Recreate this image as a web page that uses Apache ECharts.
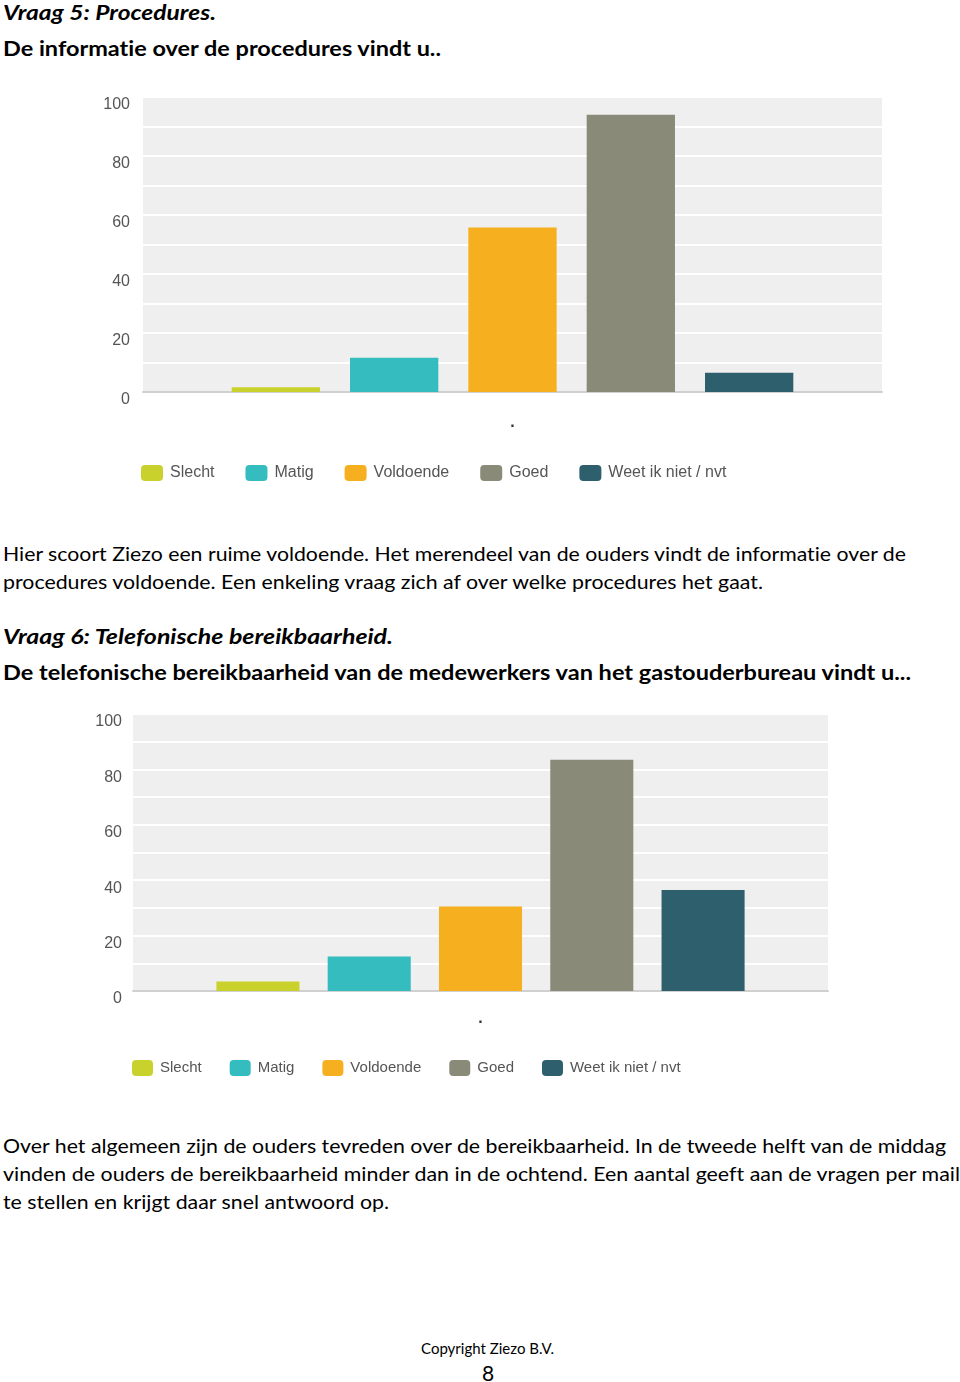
<!DOCTYPE html>
<html><head><meta charset="utf-8">
<script src="https://cdn.jsdelivr.net/npm/echarts@6/dist/echarts.min.js"></script>
<style>
html,body{margin:0;padding:0;background:#fff;}
#page{position:relative;width:960px;height:1382px;overflow:hidden;font-family:Lato,"Open Sans",sans-serif;color:#000;font-variant-ligatures:none;font-feature-settings:"liga" 0;}
.ln{position:absolute;left:3px;white-space:nowrap;transform-origin:0 50%;line-height:1;}
.bi{font-weight:bold;font-style:italic;font-size:21px;}
.b{font-weight:bold;font-size:21px;}
.t{font-size:20px;}
.chart{position:absolute;left:0;width:960px;}
</style></head>
<body><div id="page">
<div class="ln bi" style="top:1px" data-w="213">Vraag 5: Procedures.</div>
<div class="ln b" style="top:37px" data-w="438">De informatie over de procedures vindt u..</div>
<div id="c1" class="chart" style="top:80px;height:420px"></div>
<div class="ln t" style="top:543px" data-w="903">Hier scoort Ziezo een ruime voldoende. Het merendeel van de ouders vindt de informatie over de</div>
<div class="ln t" style="top:571px" data-w="760">procedures voldoende. Een enkeling vraag zich af over welke procedures het gaat.</div>
<div class="ln bi" style="top:625px" data-w="390">Vraag 6: Telefonische bereikbaarheid.</div>
<div class="ln b" style="top:661px" data-w="908">De telefonische bereikbaarheid van de medewerkers van het gastouderbureau vindt u...</div>
<div id="c2" class="chart" style="top:700px;height:400px"></div>
<div class="ln t" style="top:1135px" data-w="943">Over het algemeen zijn de ouders tevreden over de bereikbaarheid. In de tweede helft van de middag</div>
<div class="ln t" style="top:1163px" data-w="957">vinden de ouders de bereikbaarheid minder dan in de ochtend. Een aantal geeft aan de vragen per mail</div>
<div class="ln t" style="top:1191px" data-w="386">te stellen en krijgt daar snel antwoord op.</div>
<div class="ln" style="left:421px;top:1341px;font-size:15px" data-w="133">Copyright Ziezo B.V.</div>
<div class="ln" style="left:482px;top:1362px;font-size:21px">8</div>
</div>
<script>
// fit text lines to reference widths
document.querySelectorAll('.ln[data-w]').forEach(function(el){
  var w = el.getBoundingClientRect().width;
  var target = parseFloat(el.getAttribute('data-w'));
  if (w > 0) el.style.transform = 'scaleX(' + (target / w) + ')';
});

// ---- data ----
var categories = ['.'];
var seriesNames = ['Slecht', 'Matig', 'Voldoende', 'Goed', 'Weet ik niet / nvt'];
var q5Values = [1.6, 11.6, 55.8, 94, 6.5];
var q6Values = [3.4, 12.5, 30.5, 83.5, 36.5];
var yTicks = [0, 20, 40, 60, 80, 100];
var colors = ['#c9d22c', '#35bcbf', '#f6b01f', '#898a78', '#2d5f6d'];

var FONT = '"Liberation Sans Narrow","Liberation Sans",Arial,sans-serif';

function makeOption(values, grid, lg, labelMargin, yMargin) {
  return {
    animation: false,
    color: colors,
    grid: Object.assign({show: true, backgroundColor: '#efefef', borderWidth: 0}, grid),
    legend: {
      left: lg.left, top: lg.top,
      itemWidth: lg.iw, itemHeight: 16, itemGap: lg.gap,
      icon: 'roundRect',
      textStyle: {color: '#555', fontSize: lg.fs, fontFamily: FONT, padding: [0, 0, 0, 2]},
      data: seriesNames
    },
    xAxis: {
      type: 'category', data: categories,
      axisLine: {show: true, lineStyle: {color: '#d0d0d0', width: 2}},
      axisTick: {show: false},
      axisLabel: {color: '#333', fontSize: 16, fontWeight: 'bold', margin: labelMargin}
    },
    yAxis: {
      type: 'value', min: yTicks[0], max: yTicks[yTicks.length - 1], interval: 20,
      axisLine: {show: false}, axisTick: {show: false},
      axisLabel: {color: '#555', fontSize: 16, fontFamily: FONT, margin: yMargin, verticalAlign: 'top'},
      splitLine: {show: true, lineStyle: {color: '#ffffff', width: 2}},
      minorTick: {show: false, splitNumber: 2},
      minorSplitLine: {show: true, lineStyle: {color: '#ffffff', width: 2}}
    },
    series: seriesNames.map(function(n, i){
      return {
        name: n, type: 'bar', data: [values[i]],
        barCategoryGap: '24%', barGap: '34%',
        itemStyle: {color: colors[i]}
      };
    })
  };
}

var c1 = echarts.init(document.getElementById('c1'));
c1.setOption(makeOption(q5Values, {left: 143, right: 78, top: 17, height: 295},
  {left: 136, top: 380, iw: 22, gap: 31, fs: 16}, 23, 13));
var c2 = echarts.init(document.getElementById('c2'));
c2.setOption(makeOption(q6Values, {left: 133, right: 132, top: 14, height: 277},
  {left: 127, top: 355, iw: 21, gap: 28, fs: 15}, 20, 11));
</script>
</body></html>
